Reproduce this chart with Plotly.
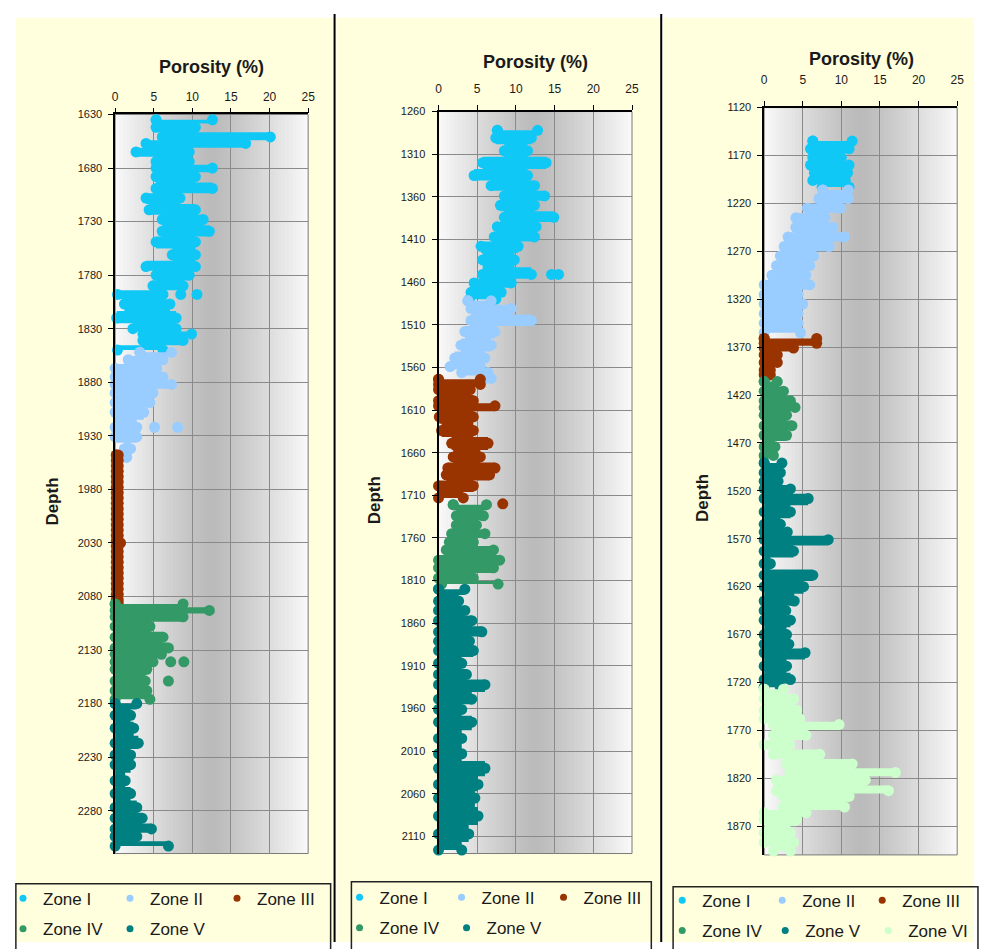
import plotly.graph_objects as go

W, H = 981, 949
FONT = "Liberation Sans, Arial, sans-serif"

ZONE_NAMES = ["Zone I", "Zone II", "Zone III", "Zone IV", "Zone V", "Zone VI"]
ZONE_COLORS = ["#10C8F6", "#99CCFF", "#993300", "#339966", "#008080", "#CCFFCC"]
X_TICKS = [0, 5, 10, 15, 20, 25]
DEPTH_DTICK = 50

# ---------------- Well 1 (left panel) ----------------
w1_range = [1630, 2320]
w1_z1_depth = [1635, 1642, 1651, 1657, 1665, 1674, 1680, 1688, 1699, 1708, 1719, 1728, 1739, 1749, 1761, 1772, 1780, 1790, 1798, 1807, 1820, 1830, 1835, 1841, 1850]
w1_z1_left = [5.3, 5.3, 6.1, 4.0, 2.7, 5.3, 5.3, 5.3, 5.3, 4.0, 4.4, 6.1, 6.1, 5.3, 7.4, 4.0, 5.3, 4.9, 0.3, 1.2, 0.2, 2.3, 3.6, 3.6, 0.3]
w1_z1_right = [12.6, 10.4, 20.1, 16.9, 9.6, 9.6, 12.6, 10.4, 12.6, 8.4, 10.4, 11.4, 12.2, 10.4, 10.4, 10.4, 9.6, 8.8, 6.2, 7.1, 7.9, 7.9, 9.9, 8.8, 6.2]
w1_z1_xd = [1798, 1798]
w1_z1_xp = [8.5, 10.6]

w1_z2_depth = [1852, 1859, 1867, 1875, 1882, 1890, 1899, 1908, 1922, 1931, 1942, 1950]
w1_z2_left = [3.2, 1.7, 0, 0, 0, 0, 0, 0, 0, 0, 1.2, 1.5]
w1_z2_right = [7.3, 6.2, 5.4, 6.2, 7.3, 4.9, 4.5, 3.7, 2.8, 2.8, 2.0, 1.5]
w1_z2_xd = [1922, 1922]
w1_z2_xp = [5.1, 8.1]

w1_z3_depth = [1948, 1953, 1958, 1963, 1968, 1973, 1978, 1983, 1988, 1993, 1998, 2003, 2008, 2013, 2018, 2023, 2028, 2033, 2038, 2043, 2048, 2053, 2058, 2063, 2068, 2073, 2078, 2083, 2086]
w1_z3_left = [0.15] * 29
w1_z3_right = [0.4] * 29
w1_z3_xd = [2030]
w1_z3_xp = [0.7]

w1_z4_depth = [2087, 2093, 2099, 2108, 2118, 2128, 2134, 2141, 2148, 2159, 2168, 2176]
w1_z4_left = [0, 0, 0, 0, 0, 0, 0, 0, 0, 0, 0, 0]
w1_z4_right = [8.8, 12.2, 8.8, 4.5, 6.2, 6.9, 6.0, 4.9, 4.1, 3.9, 4.1, 4.5]
w1_z4_xd = [2141, 2141, 2159]
w1_z4_xp = [7.2, 8.9, 6.9]

w1_z5_depth = [2180, 2191, 2203, 2217, 2228, 2237, 2252, 2264, 2277, 2287, 2297, 2304, 2313]
w1_z5_left = [0, 0, 0, 0, 0, 0, 0, 0, 0, 0, 0, 0, 0]
w1_z5_right = [2.8, 2.0, 2.4, 3.0, 2.0, 2.0, 1.3, 2.0, 2.8, 3.5, 4.7, 2.8, 6.9]

# ---------------- Well 2 (middle panel) ----------------
w2_range = [1260, 2130]
w2_z1_depth = [1282, 1291, 1306, 1320, 1335, 1347, 1359, 1370, 1384, 1395, 1407, 1418, 1434, 1451, 1461, 1472, 1480]
w2_z1_left = [7.6, 7.4, 8.5, 5.7, 4.6, 6.8, 8.5, 8.0, 8.5, 7.6, 7.2, 5.5, 5.7, 5.7, 4.6, 4.2, 4.0]
w2_z1_right = [12.8, 12.0, 11.5, 13.9, 11.5, 12.4, 13.7, 12.4, 14.9, 12.6, 12.4, 10.3, 9.8, 12.0, 9.4, 8.1, 7.4]
w2_z1_xd = [1451, 1451]
w2_z1_xp = [14.6, 15.5]

w2_z2_depth = [1482, 1491, 1505, 1518, 1534, 1549, 1559, 1566, 1573]
w2_z2_left = [3.8, 4.2, 4.2, 3.4, 2.9, 2.1, 1.5, 3.0, 6.0]
w2_z2_right = [6.8, 9.4, 12.0, 7.3, 6.8, 6.0, 5.4, 6.4, 6.8]

w2_z3_depth = [1574, 1580, 1586, 1599, 1605, 1618, 1634, 1649, 1665, 1678, 1686, 1699, 1713]
w2_z3_left = [0, 0, 0, 0, 0, 0.1, 0.4, 1.7, 1.9, 1.2, 1.0, 0, 0]
w2_z3_right = [5.4, 5.4, 4.1, 4.5, 7.3, 4.5, 4.5, 6.4, 5.4, 7.3, 6.6, 4.5, 3.2]
w2_z3_xd = [1720]
w2_z3_xp = [8.3]

w2_z4_depth = [1721, 1734, 1745, 1755, 1765, 1774, 1786, 1795, 1807, 1814]
w2_z4_left = [1.9, 2.3, 2.3, 1.7, 1.4, 1.0, 0, 0, 0, 0.4]
w2_z4_right = [6.2, 5.8, 4.9, 6.0, 4.5, 7.1, 7.9, 7.1, 4.5, 7.7]

w2_z5_depth = [1820, 1834, 1845, 1857, 1870, 1881, 1892, 1907, 1920, 1932, 1949, 1961, 1976, 1995, 2013, 2030, 2049, 2065, 2086, 2107, 2126]
w2_z5_left = [0] * 21
w2_z5_right = [3.4, 2.6, 3.4, 4.3, 5.6, 4.0, 4.5, 3.0, 3.6, 6.0, 4.3, 3.0, 4.3, 3.0, 3.0, 6.0, 5.1, 4.7, 5.1, 3.9, 3.0]

# ---------------- Well 3 (right panel) ----------------
w3_range = [1120, 1900]
w3_z1_depth = [1155, 1163, 1172, 1180, 1188, 1196, 1203]
w3_z1_left = [6.3, 6.0, 6.3, 6.0, 6.5, 6.3, 7.5]
w3_z1_right = [11.4, 11.0, 10.0, 11.0, 10.8, 10.5, 11.0]

w3_z2_depth = [1206, 1215, 1225, 1235, 1245, 1255, 1265, 1275, 1285, 1295, 1305, 1315, 1325, 1335, 1345, 1355]
w3_z2_left = [7.6, 7.1, 5.6, 4.1, 4.1, 3.1, 2.6, 2.1, 1.6, 1.0, 0, 0, 0, 0, 0, 0]
w3_z2_right = [10.9, 10.9, 9.9, 7.9, 8.9, 10.4, 8.4, 6.4, 5.9, 5.4, 5.9, 4.4, 5.0, 4.4, 4.4, 4.7]

w3_z3_depth = [1361, 1366, 1371, 1378, 1386, 1394, 1399]
w3_z3_left = [0, 0, 0, 0, 0, 0, 0]
w3_z3_right = [6.8, 6.8, 3.8, 1.7, 1.7, 0.8, 0.8]

w3_z4_depth = [1406, 1416, 1426, 1433, 1441, 1452, 1462, 1474, 1483]
w3_z4_left = [0, 0, 0, 0, 0, 0, 0, 0, 0]
w3_z4_right = [1.7, 2.5, 3.4, 4.0, 2.9, 3.6, 2.9, 1.4, 1.2]

w3_z5_depth = [1491, 1501, 1510, 1518, 1528, 1542, 1555, 1563, 1571, 1583, 1596, 1608, 1620, 1635, 1645, 1655, 1670, 1680, 1689, 1703, 1717, 1725]
w3_z5_left = [0] * 22
w3_z5_right = [2.3, 2.1, 1.8, 3.4, 5.7, 3.4, 2.1, 3.0, 8.3, 3.8, 0.8, 6.3, 5.1, 3.9, 2.8, 3.4, 2.9, 3.2, 5.3, 2.9, 3.4, 2.1]

w3_z6_depth = [1727, 1737, 1749, 1758, 1764, 1775, 1785, 1795, 1805, 1814, 1822, 1833, 1839, 1850, 1856, 1863, 1877, 1887, 1896]
w3_z6_left = [0, 0, 0, 0, 1.2, 1.2, 0, 1.2, 2.9, 3.3, 1.6, 1.6, 2.5, 2.5, 0, 0, 0, 0, 1.2]
w3_z6_right = [2.5, 3.8, 4.2, 4.6, 9.7, 5.4, 3.3, 7.2, 11.4, 17.0, 13.1, 16.1, 11.0, 10.4, 5.4, 4.2, 3.4, 3.8, 3.4]

wells = [
    dict(range=w1_range, zones=[
        (0, w1_z1_depth, w1_z1_left, w1_z1_right, w1_z1_xd, w1_z1_xp),
        (1, w1_z2_depth, w1_z2_left, w1_z2_right, w1_z2_xd, w1_z2_xp),
        (2, w1_z3_depth, w1_z3_left, w1_z3_right, w1_z3_xd, w1_z3_xp),
        (3, w1_z4_depth, w1_z4_left, w1_z4_right, w1_z4_xd, w1_z4_xp),
        (4, w1_z5_depth, w1_z5_left, w1_z5_right, [], []),
    ]),
    dict(range=w2_range, zones=[
        (0, w2_z1_depth, w2_z1_left, w2_z1_right, w2_z1_xd, w2_z1_xp),
        (1, w2_z2_depth, w2_z2_left, w2_z2_right, [], []),
        (2, w2_z3_depth, w2_z3_left, w2_z3_right, w2_z3_xd, w2_z3_xp),
        (3, w2_z4_depth, w2_z4_left, w2_z4_right, [], []),
        (4, w2_z5_depth, w2_z5_left, w2_z5_right, [], []),
    ]),
    dict(range=w3_range, zones=[
        (0, w3_z1_depth, w3_z1_left, w3_z1_right, [], []),
        (1, w3_z2_depth, w3_z2_left, w3_z2_right, [], []),
        (2, w3_z3_depth, w3_z3_left, w3_z3_right, [], []),
        (3, w3_z4_depth, w3_z4_left, w3_z4_right, [], []),
        (4, w3_z5_depth, w3_z5_left, w3_z5_right, [], []),
        (5, w3_z6_depth, w3_z6_left, w3_z6_right, [], []),
    ]),
]

# ---------------- layout geometry (pixels) ----------------
geom = [
    dict(x0=113.3, x1=308.3, yt=110, yb=859.3, title=(210.8, 62), depth=(50, 502),
         cell=(13, 334), lbox=(13, 331, 890), stand=2,
         legends=[(0, 905, 62, [0, 1, 2]), (0, 936, 62, [3, 4])]),
    dict(x0=440, x1=635.5, yt=107, yb=859.3, title=(538, 57), depth=(375, 501),
         cell=(337, 664), lbox=(352, 655, 888), stand=7,
         legends=[(340, 904, 57, [0, 1, 2]), (340, 935, 62, [3, 4])]),
    dict(x0=769, x1=964, yt=103, yb=860.7, title=(867, 54), depth=(706, 499),
         cell=(667, 981), lbox=(677, 985, 893), stand=12,
         legends=[(666, 907, 55, [0, 1, 2]), (666, 938, 58, [3, 4, 5])]),
]

fig = go.Figure()
shapes = []
annotations = []
layout = {}

# page cells (pale yellow)
for g in geom:
    shapes.append(dict(type="rect", xref="paper", yref="paper",
                       x0=g["cell"][0] / W, x1=g["cell"][1] / W, y0=0, y1=1 - 12 / H,
                       fillcolor="#FFFEDD", line=dict(width=0), layer="below"))
for xs in (335, 665):
    shapes.append(dict(type="line", xref="paper", yref="paper", x0=xs / W, x1=xs / W,
                       y0=0, y1=1 - 8 / H, line=dict(color="black", width=2), layer="below"))

legend_count = 0
for i, (well, g) in enumerate(zip(wells, geom)):
    sx = "" if i == 0 else str(i + 1)
    xa, ya = "x" + sx, "y" + sx
    layout["xaxis" + sx] = dict(
        domain=[g["x0"] / W, g["x1"] / W], anchor=ya, side="top", range=[0, 25],
        tickvals=X_TICKS, showgrid=True, gridcolor="#8a8a8a", gridwidth=1,
        showline=True, linecolor="black", linewidth=1.5, ticks="outside", ticklen=5,
        tickcolor="black", tickfont=dict(family=FONT, size=12, color="#1a1a1a"),
        ticklabelstandoff=g["stand"], zeroline=False, fixedrange=True)
    layout["yaxis" + sx] = dict(
        domain=[1 - g["yb"] / H, 1 - g["yt"] / H], anchor=xa,
        range=[well["range"][1], well["range"][0]], tick0=well["range"][0], dtick=DEPTH_DTICK,
        showgrid=True, gridcolor="#8a8a8a", gridwidth=1, showline=True, linecolor="black",
        linewidth=2 if i == 1 else 1.5, ticks="outside", ticklen=5, tickcolor="black",
        tickfont=dict(family=FONT, size=11, color="#1a1a1a"), ticklabelstandoff=4,
        zeroline=False, fixedrange=True)

    # grey horizontal gradient in plot area
    n = 50
    for k in range(n):
        a = 25 * k / n
        b = 25 * (k + 1) / n
        mid = (a + b) / 2
        t = abs(mid - 12.5) / 12.5
        v = int(round(186 + (250 - 186) * t ** 1.2))
        shapes.append(dict(type="rect", xref=xa, yref=ya + " domain", x0=a, x1=b + 0.15,
                           y0=0, y1=1, fillcolor=f"rgb({v},{v},{v})", line=dict(width=0),
                           layer="below"))
    shapes.append(dict(type="rect", xref=xa + " domain", yref=ya + " domain", x0=0, x1=1,
                       y0=0, y1=1, line=dict(color="#7a7a7a", width=1), layer="below"))

    # zone data: band between min and max porosity at each depth, with point markers
    for zi, depth, left, right, xd, xp in well["zones"]:
        col = ZONE_COLORS[zi]
        xs_poly = list(left) + list(right)[::-1] + [left[0]]
        ys_poly = list(depth) + list(depth)[::-1] + [depth[0]]
        fig.add_trace(go.Scatter(
            x=xs_poly, y=ys_poly, mode="lines+markers", fill="toself", fillcolor=col,
            line=dict(color=col, width=0, shape="vhv"),
            marker=dict(color=col, size=11, line=dict(width=0)),
            cliponaxis=False, showlegend=False, hoverinfo="skip", xaxis=xa, yaxis=ya))
        if xd:
            fig.add_trace(go.Scatter(
                x=xp, y=xd, mode="markers", marker=dict(color=col, size=11, line=dict(width=0)),
                cliponaxis=False, showlegend=False, hoverinfo="skip", xaxis=xa, yaxis=ya))

    # legends (one per row)
    for (lx, ly, ew, zlist) in g["legends"]:
        legend_count += 1
        lid = "legend" if legend_count == 1 else f"legend{legend_count}"
        layout[lid] = dict(orientation="h", x=lx / W, xanchor="left", y=1 - ly / H,
                           yanchor="middle", bgcolor="rgba(0,0,0,0)", borderwidth=0,
                           font=dict(family=FONT, size=17, color="#1a1a1a"),
                           entrywidth=ew, entrywidthmode="pixels", traceorder="normal",
                           itemclick=False, itemdoubleclick=False)
        for zi in zlist:
            fig.add_trace(go.Scatter(
                x=[None], y=[None], mode="markers", name=ZONE_NAMES[zi],
                marker=dict(color=ZONE_COLORS[zi], size=7), legend=lid,
                showlegend=True, xaxis=xa, yaxis=ya))

    # legend frame
    lb = g["lbox"]
    shapes.append(dict(type="rect", xref="paper", yref="paper", x0=lb[0] / W, x1=lb[1] / W,
                       y0=-0.01, y1=1 - lb[2] / H, line=dict(color="#222222", width=1.5),
                       fillcolor="rgba(0,0,0,0)", layer="above"))

    # titles
    annotations.append(dict(text="Porosity (%)", xref="paper", yref="paper",
                            x=g["title"][0] / W, y=1 - g["title"][1] / H, showarrow=False,
                            xanchor="center", yanchor="middle",
                            font=dict(family=FONT, size=18, color="#1a1a1a", weight="bold")))
    annotations.append(dict(text="Depth", xref="paper", yref="paper", textangle=-90,
                            x=g["depth"][0] / W, y=1 - g["depth"][1] / H, showarrow=False,
                            xanchor="center", yanchor="middle",
                            font=dict(family=FONT, size=17, color="#1a1a1a", weight="bold")))

fig.update_layout(
    width=W, height=H, margin=dict(l=0, r=0, t=0, b=0),
    paper_bgcolor="white", plot_bgcolor="rgba(0,0,0,0)",
    shapes=shapes, annotations=annotations, showlegend=True,
    **layout)

fig.write_html("out.html", config={"displayModeBar": False},
               post_script="document.body.style.margin='0';")
